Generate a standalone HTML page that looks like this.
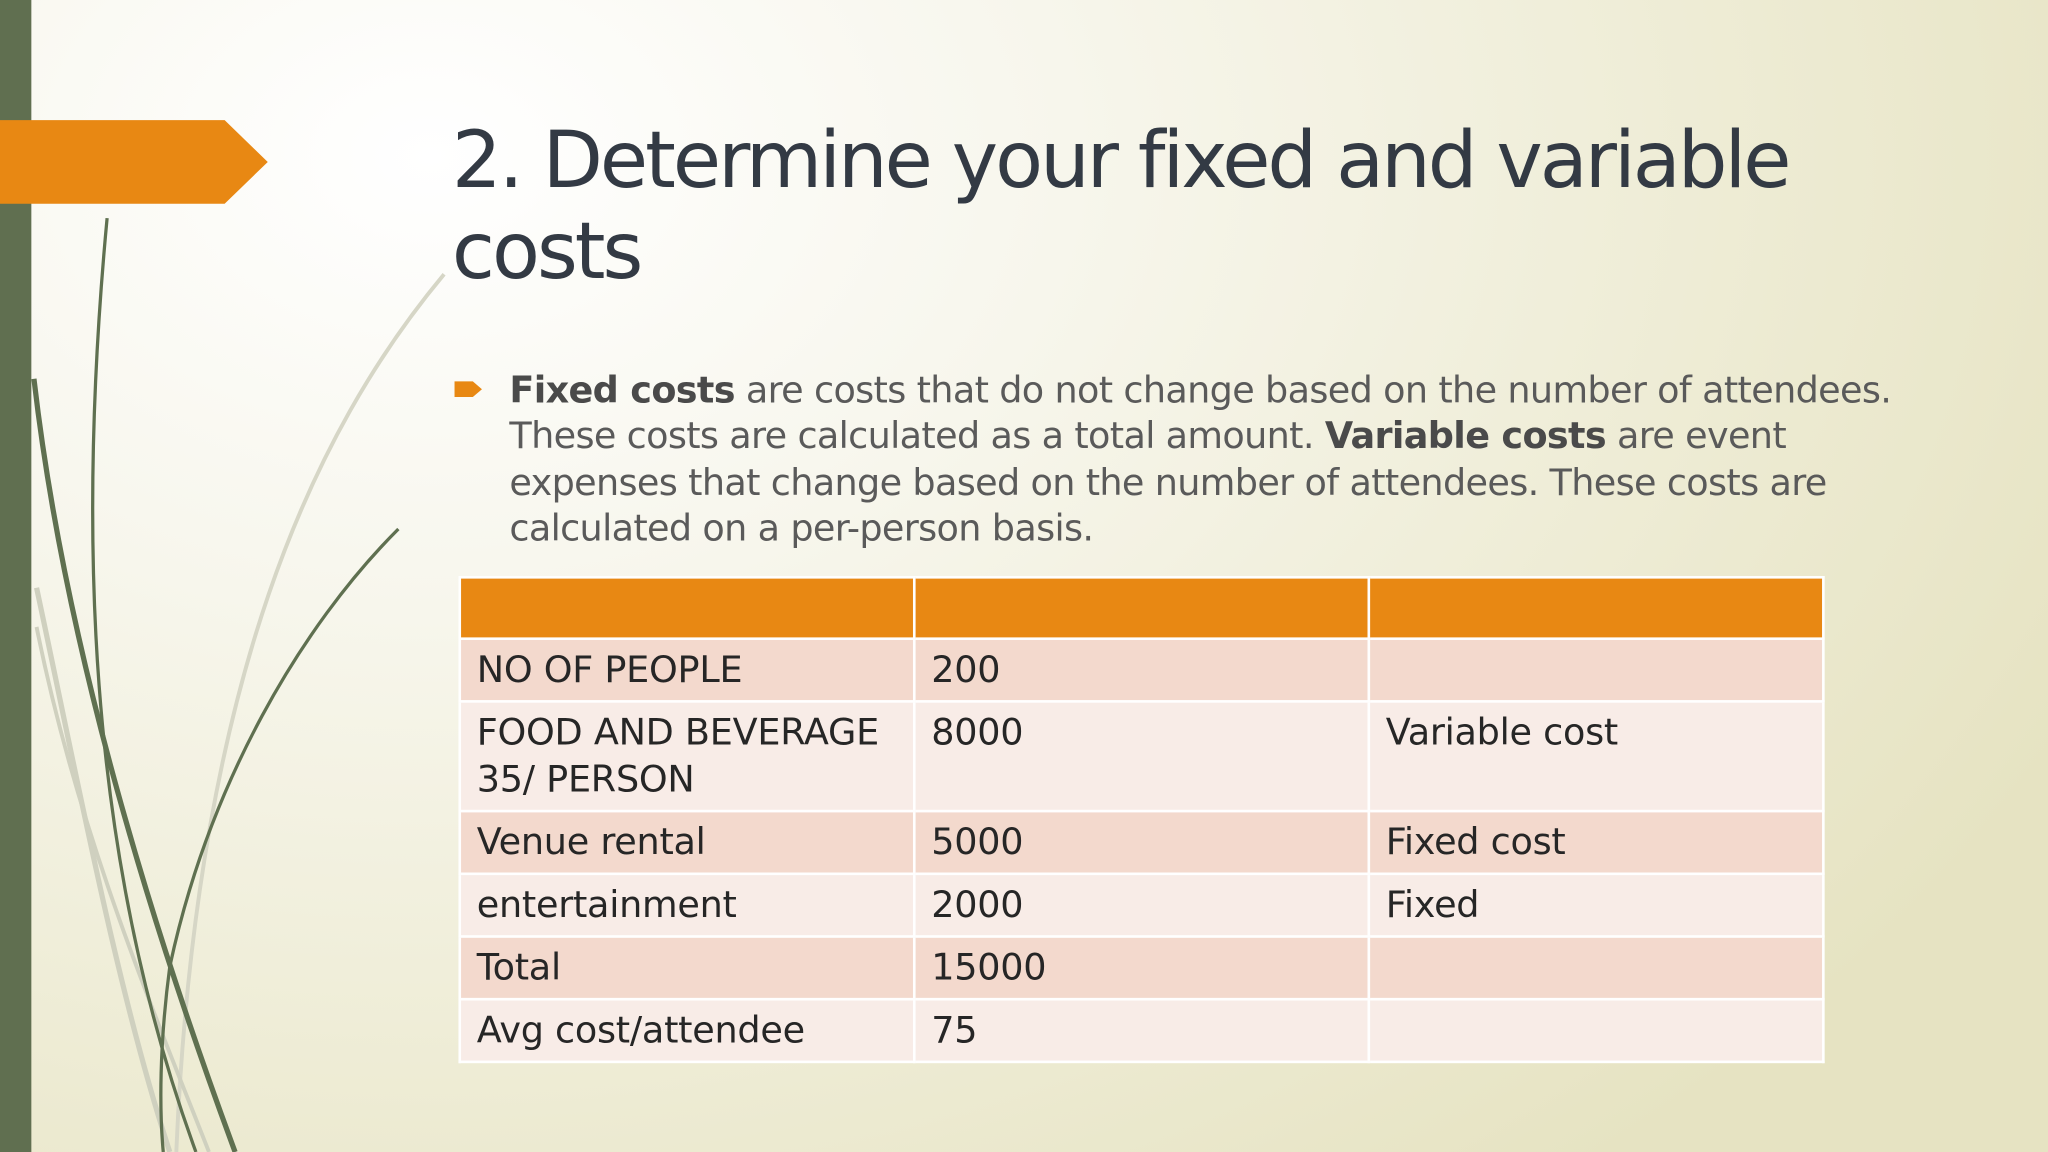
<!DOCTYPE html>
<html><head><meta charset="utf-8"><style>
html,body{margin:0;padding:0;width:2048px;height:1152px;overflow:hidden}
#s{position:absolute;left:0;top:0;width:1568px;height:882px;transform:scale(1.306122);transform-origin:0 0;
background:radial-gradient(ellipse 1400px 1000px at 330px 120px,#ffffff 0%,#f7f6ec 35%,#eeecd5 70%,#e6e3c2 100%);
font-family:"Liberation Sans","DejaVu Sans",sans-serif;overflow:hidden}
.t{position:absolute;left:346px;top:88px;font-size:60px;line-height:70px;color:#333a44;font-family:"DejaVu Sans","Liberation Sans",sans-serif;letter-spacing:-2.3px}
.b{position:absolute;left:390px;top:281px;width:1080px;font-size:28px;line-height:35.3px;color:#5a5a5a;font-family:"DejaVu Sans","Liberation Sans",sans-serif;letter-spacing:-0.5px}
.b b{color:#4a4a4a}
table{position:absolute;left:351px;top:441px;border-collapse:collapse;width:1046px;font-family:"DejaVu Sans","Liberation Sans",sans-serif;font-size:28px;color:#262626;letter-spacing:-0.2px}
td{border:2px solid #fff;width:33.3%;padding:5px 12px 0 12px;vertical-align:top;box-sizing:border-box;line-height:36px}
tr.h td{background:#e88813;height:47px}
tr.o td{background:#f3d9cd}
tr.e td{background:#f8ece7}
</style></head><body>
<div id="s">
<svg width="1568" height="882" style="position:absolute;left:0;top:0">
<path d="M340 210 C240 330 150 520 135 882" stroke="#d6d6c6" stroke-width="3" fill="none"/>
<path d="M28 450 C60 600 90 760 130 882" stroke="#cfd0bf" stroke-width="4" fill="none"/>
<path d="M28 480 C60 640 120 780 160 882" stroke="#cfd0bf" stroke-width="3" fill="none"/>
<path d="M82 167 C60 400 65 650 150 882" stroke="#5f7050" stroke-width="2.5" fill="none"/>
<path d="M26 290 C50 500 120 720 180 882" stroke="#5f7050" stroke-width="4" fill="none"/>
<path d="M305 405 C230 480 160 600 130 740 C122 800 122 850 125 882" stroke="#5f7050" stroke-width="2.5" fill="none"/>
<rect x="0" y="0" width="24" height="882" fill="#606f50"/>
<polygon points="0,92 172,92 205,124 172,156 0,156" fill="#e88813"/>
<polygon points="348,292 362,292 369,298 362,304 348,304" fill="#e88813"/>
</svg>
<div class="t">2. Determine your fixed and variable<br>costs</div>
<div class="b"><b>Fixed costs</b> are costs that do not change based on the number of attendees. These costs are calculated as a total amount. <b>Variable costs</b> are event expenses that change based on the number of attendees. These costs are calculated on a per-person basis.</div>
<table>
<tr class="h"><td></td><td></td><td></td></tr>
<tr class="o" style="height:48px"><td>NO OF PEOPLE</td><td>200</td><td></td></tr>
<tr class="e" style="height:84px"><td>FOOD AND BEVERAGE 35/ PERSON</td><td>8000</td><td>Variable cost</td></tr>
<tr class="o" style="height:48px"><td>Venue rental</td><td>5000</td><td>Fixed cost</td></tr>
<tr class="e" style="height:48px"><td>entertainment</td><td>2000</td><td>Fixed</td></tr>
<tr class="o" style="height:48px"><td>Total</td><td>15000</td><td></td></tr>
<tr class="e" style="height:48px"><td>Avg cost/attendee</td><td>75</td><td></td></tr>
</table>
</div>
</body></html>
